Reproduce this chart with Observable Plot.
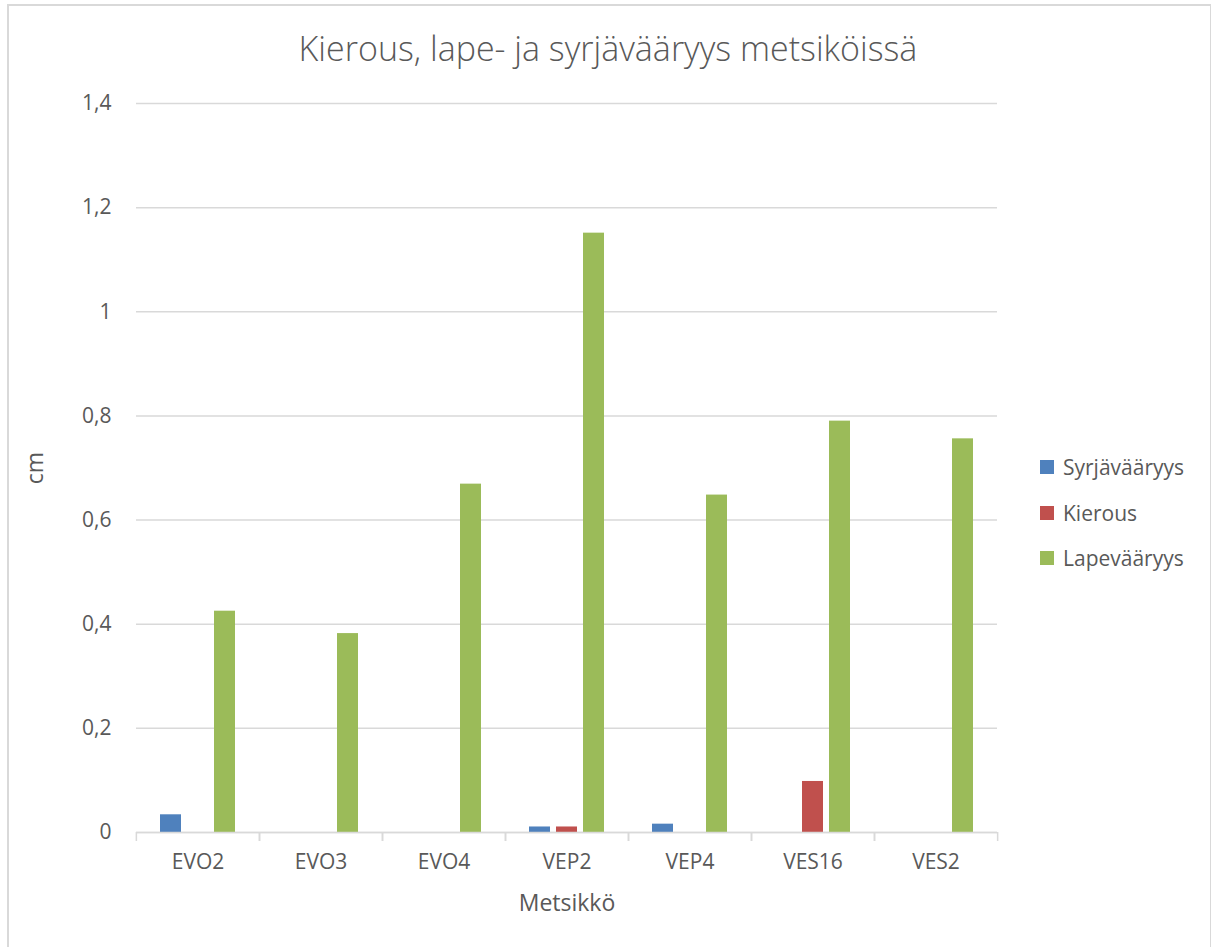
<!DOCTYPE html>
<html>
<head>
<meta charset="utf-8">
<script src="https://cdn.jsdelivr.net/npm/d3@7"></script>
<script src="https://cdn.jsdelivr.net/npm/@observablehq/plot@0.6"></script>
<style>
  body { margin: 0; background: #fff; }
  #wrap { position: relative; width: 1211px; height: 947px; overflow: hidden; font-family: "Open Sans", sans-serif; color: #595959; }
  #border { position: absolute; left: 7px; top: 4px; width: 1204px; height: 980px; border-left: 2px solid #d9d9d9; border-top: 2px solid #d9d9d9; border-right: 1px solid #d9d9d9; box-sizing: border-box; }
  #title { position: absolute; left: 8px; width: 1200px; top: 25px; text-align: center; font-size: 34px; font-weight: 300; line-height: 46px; }
  #chart { position: absolute; left: 0; top: 0; }
  .leg { position: absolute; left: 1040px; display: flex; align-items: center; height: 24px; font-size: 21px; }
  .leg .sw { width: 14px; height: 14px; margin-right: 9px; }
</style>
</head>
<body>
<div id="wrap">
  <div id="border"></div>
  <div id="chart"></div>
  <div id="title">Kierous, lape- ja syrjävääryys metsiköissä</div>
  <div id="legend"></div>
</div>
<script>
const categories = ["EVO2", "EVO3", "EVO4", "VEP2", "VEP4", "VES16", "VES2"];
const series = ["Syrjävääryys", "Kierous", "Lapevääryys"];
const syrjavaaryys = [0.034, 0, 0, 0.0106, 0.016, 0, 0];
const kierous = [0, 0, 0, 0.0106, 0, 0.098, 0];
const lapevaaryys = [0.425, 0.382, 0.669, 1.151, 0.648, 0.790, 0.756];
const colors = ["#4f81bd", "#c0504d", "#9bbb59"];
const yTicks = [0, 0.2, 0.4, 0.6, 0.8, 1.0, 1.2, 1.4];

const seriesValues = [syrjavaaryys, kierous, lapevaaryys];
const data = categories.flatMap((c, i) =>
  series.map((s, j) => ({ category: c, series: s, value: seriesValues[j][i] }))
).filter(d => d.value > 0);

const W = 1211, H = 947, ML = 135, MR = 213, MT = 103, MB = 115;
const step = (W - ML - MR) / categories.length;
const fmt = d => String(+d.toFixed(1)).replace(".", ",");
const grid = "#d9d9d9";

const chart = Plot.plot({
  width: W, height: H,
  marginLeft: ML, marginRight: MR, marginTop: MT, marginBottom: MB,
  style: { fontFamily: "'Open Sans', sans-serif", fontSize: "21px", color: "#595959", background: "transparent" },
  fx: { domain: categories, padding: 0 },
  x: { domain: series, paddingInner: 0.218, paddingOuter: 0.85, axis: null },
  y: { domain: [0, 1.4] },
  color: { domain: series, range: colors },
  marks: [
    Plot.gridY(yTicks, { stroke: grid, strokeOpacity: 1, strokeWidth: 1.5 }),
    Plot.axisY(yTicks, { tickSize: 0, tickPadding: 25, tickFormat: fmt, label: null, fill: "#595959" }),
    Plot.axisY(yTicks, { tickSize: 0, tickFormat: () => "", label: "cm", labelArrow: "none", labelAnchor: "center", labelOffset: 110, fontSize: 23, fill: "#595959" }),
    Plot.barY(data, { fx: "category", x: "series", y: "value", fill: "series" }),
    Plot.ruleY([0], { stroke: grid, strokeWidth: 1.5 }),
    Plot.axisFx({ anchor: "bottom", tickSize: 0, tickPadding: 22, label: null, fill: "#595959" }),
    Plot.axisFx({ anchor: "bottom", tickSize: 0, tickFormat: () => "", label: "Metsikkö", labelArrow: "none", labelAnchor: "center", labelOffset: 78, fontSize: 23, fill: "#595959" }),
    Plot.axisFx({ anchor: "bottom", tickSize: 9, tickFormat: () => "", label: null, dx: -step / 2, stroke: grid, strokeWidth: 1.5 }),
    Plot.axisFx([categories[categories.length - 1]], { anchor: "bottom", tickSize: 9, tickFormat: () => "", label: null, dx: step / 2, stroke: grid, strokeWidth: 1.5 })
  ]
});
document.getElementById("chart").appendChild(chart);

const legendTops = [455, 501, 546];
const legend = document.getElementById("legend");
series.forEach((s, i) => {
  const item = document.createElement("div");
  item.className = "leg";
  item.style.top = legendTops[i] + "px";
  item.innerHTML = `<div class="sw" style="background:${colors[i]}"></div><span>${s}</span>`;
  legend.appendChild(item);
});
</script>
</body>
</html>
